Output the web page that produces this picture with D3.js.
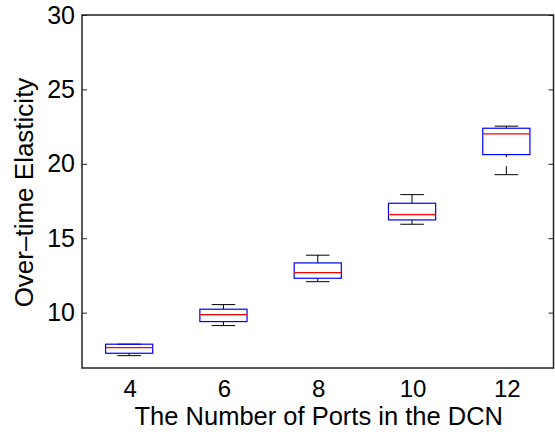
<!DOCTYPE html>
<html><head><meta charset="utf-8">
<script src="https://cdn.jsdelivr.net/npm/d3@7"></script>
<style>body{margin:0;background:#fff;} text{font-family:"Liberation Sans",Arial,Helvetica,sans-serif;}</style>
</head><body>
<svg id="c" width="555" height="432"></svg>
<script>
const categories = ["4","6","8","10","12"];
const whiskerLow  = [7.11, 9.13, 12.08, 15.94, 19.27];
const q1          = [7.27, 9.40, 12.31, 16.23, 20.62];
const median      = [7.65, 9.87, 12.69, 16.59, 22.01];
const q3          = [7.88, 10.23, 13.34, 17.35, 22.39];
const whiskerHigh = [7.88, 10.54, 13.86, 17.93, 22.53];
const yTicks = [10, 15, 20, 25, 30];
const xLabel = "The Number of Ports in the DCN";
const yLabel = "Over\u2013time Elasticity";

const L = 82, R = 553.5, T = 15, B = 368;
const svg = d3.select("#c");
const x = d3.scaleLinear().domain([0.5, categories.length + 0.5]).range([L, R]);
const y = d3.scaleLinear().domain([6.28, 30]).range([B, T]);
const bw = x(1.25) - x(1);   // half-width of box
const cw = bw / 2;           // half-width of cap

const data = categories.map((c, i) => ({c, i: i + 1, lo: whiskerLow[i], q1: q1[i], med: median[i], q3: q3[i], hi: whiskerHigh[i]}));

const g = svg.append("g");
data.forEach(d => {
  const cx = x(d.i);
  g.append("line").attr("x1", cx).attr("x2", cx).attr("y1", y(d.hi)).attr("y2", y(d.q3))
    .attr("stroke", "#000").attr("stroke-width", 1).attr("stroke-dasharray", "8.5,9");
  g.append("line").attr("x1", cx).attr("x2", cx).attr("y1", y(d.lo)).attr("y2", y(d.q1))
    .attr("stroke", "#000").attr("stroke-width", 1).attr("stroke-dasharray", "8.5,9");
  [d.lo, d.hi].forEach(v => {
    g.append("line").attr("x1", cx - cw).attr("x2", cx + cw).attr("y1", y(v)).attr("y2", y(v))
      .attr("stroke", "#000").attr("stroke-width", 1);
  });
  g.append("rect").attr("x", cx - bw).attr("width", 2 * bw)
    .attr("y", y(d.q3)).attr("height", y(d.q1) - y(d.q3))
    .attr("fill", "none").attr("stroke", "#0000ff").attr("stroke-width", 1.2);
  g.append("line").attr("x1", cx - bw).attr("x2", cx + bw).attr("y1", y(d.med)).attr("y2", y(d.med))
    .attr("stroke", "#ff0000").attr("stroke-width", 1.2);
});

const axL = svg.append("g").attr("transform", `translate(${L},0)`)
  .call(d3.axisLeft(y).tickValues(yTicks).tickSize(-5).tickPadding(7).tickFormat(d3.format("d")));
axL.select(".domain").remove();
axL.selectAll("line").attr("stroke", "#222");
axL.selectAll("text").attr("font-size", 25).attr("fill", "#000");
const axR = svg.append("g").attr("transform", `translate(${R},0)`)
  .call(d3.axisRight(y).tickValues(yTicks).tickSize(-5).tickFormat(""));
axR.select(".domain").remove();
axR.selectAll("line").attr("stroke", "#222");

svg.append("rect").attr("x", L).attr("y", T).attr("width", R - L).attr("height", B - T)
  .attr("fill", "none").attr("stroke", "#222").attr("stroke-width", 1.5);

svg.append("g").selectAll("text").data(data).join("text")
  .attr("x", d => x(d.i) + 1).attr("y", 397).attr("text-anchor", "middle")
  .attr("font-size", 24).attr("fill", "#000").text(d => d.c);

svg.append("text").attr("x", (L + R) / 2 + 1).attr("y", 425).attr("text-anchor", "middle")
  .attr("font-size", 25.5).attr("fill", "#000").text(xLabel);
svg.append("text").attr("transform", `translate(33,${(T + B) / 2 + 1}) rotate(-90)`)
  .attr("text-anchor", "middle").attr("font-size", 26).attr("fill", "#000").text(yLabel);
</script>
</body></html>
